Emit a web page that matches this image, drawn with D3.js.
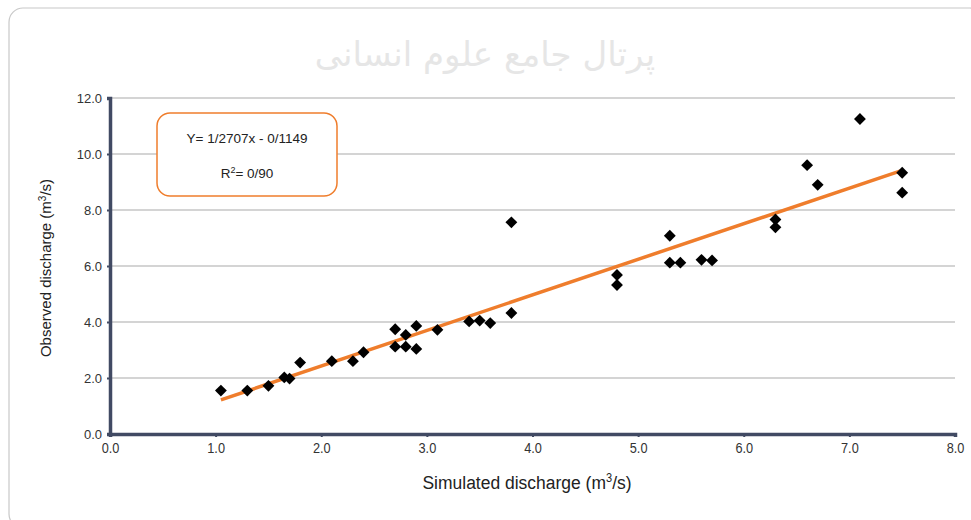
<!DOCTYPE html>
<html>
<head>
<meta charset="utf-8">
<script src="https://cdn.jsdelivr.net/npm/d3@7"></script>
<style>
  body { margin: 0; background: #fff; }
  text { font-family: "Liberation Sans", Arial, sans-serif; fill: #222; }
</style>
</head>
<body>
<div id="chart"></div>
<script>
// simulated vs observed discharge (m3/s)
var simulated = [1.05, 1.3, 1.5, 1.65, 1.7, 1.8, 2.1, 2.3, 2.4, 2.7, 2.7, 2.8, 2.8, 2.9, 2.9, 3.1,
  3.4, 3.5, 3.6, 3.8, 3.8, 4.8, 4.8, 5.3, 5.3, 5.4, 5.6, 5.7, 6.3, 6.3, 6.6, 6.7, 7.1, 7.5, 7.5];
var observed = [1.55, 1.55, 1.72, 2.02, 1.98, 2.55, 2.6, 2.6, 2.92, 3.74, 3.12, 3.54, 3.12, 3.86, 3.04, 3.72,
  4.02, 4.05, 3.96, 7.56, 4.32, 5.68, 5.32, 7.08, 6.12, 6.12, 6.22, 6.2, 7.66, 7.38, 9.6, 8.9, 11.25, 9.33, 8.62];
var xTicks = [0, 1, 2, 3, 4, 5, 6, 7, 8];
var yTicks = [0, 2, 4, 6, 8, 10, 12];
var slope = 1.2707, intercept = -0.1149;
var fitRange = [1.05, 7.5];

var svgWidth = 971;
var svgHeight = 520;
var margin = { top: 98, right: 16, bottom: 86, left: 110 };
var width = 955 - margin.left;
var height = 434 - margin.top;

var svg = d3.select("#chart")
  .append("svg")
  .attr("width", svgWidth)
  .attr("height", svgHeight);

// outer frame
svg.append("rect")
  .attr("x", 9).attr("y", 8)
  .attr("width", 975).attr("height", 520)
  .attr("rx", 14)
  .attr("fill", "none")
  .attr("stroke", "#c8c8c8")
  .attr("stroke-width", 1.2);

// watermark
svg.append("text")
  .attr("x", 485).attr("y", 66)
  .attr("text-anchor", "middle")
  .style("font-family", "DejaVu Sans, sans-serif")
  .style("font-size", "34px")
  .style("fill", "#e6e6e6")
  .text("پرتال جامع علوم انسانی");

var chartGroup = svg.append("g")
  .attr("transform", `translate(${margin.left}, ${margin.top})`);

var x = d3.scaleLinear().domain([0, 8]).range([0, width]);
var y = d3.scaleLinear().domain([0, 12]).range([height, 0]);

// gridlines
chartGroup.append("g")
  .selectAll("line")
  .data(yTicks.slice(1))
  .enter()
  .append("line")
  .attr("x1", 0).attr("x2", width)
  .attr("y1", d => y(d)).attr("y2", d => y(d))
  .attr("stroke", "#a9a9a9")
  .attr("stroke-width", 1);

// axes
var bottomAxis = d3.axisBottom(x).tickValues(xTicks).tickFormat(d3.format(".1f")).tickSize(3).tickPadding(6);
var leftAxis = d3.axisLeft(y).tickValues(yTicks).tickFormat(d3.format(".1f")).tickSize(3).tickPadding(5);

var xAxis = chartGroup.append("g")
  .attr("transform", `translate(0, ${height})`)
  .call(bottomAxis);
var yAxis = chartGroup.append("g").call(leftAxis);

[xAxis, yAxis].forEach(function(a) {
  a.select(".domain").attr("stroke", "#414a63").attr("stroke-width", 3.5);
  a.selectAll(".tick line").attr("stroke", "#414a63").attr("stroke-width", 2);
  a.selectAll(".tick text")
    .style("font-size", "13px")
    .style("fill", "#333");
});
xAxis.selectAll(".tick text").style("font-size", "14.5px").attr("transform", "scale(0.88, 1)");

// fit line
chartGroup.append("line")
  .attr("x1", x(fitRange[0])).attr("y1", y(slope * fitRange[0] + intercept))
  .attr("x2", x(fitRange[1])).attr("y2", y(slope * fitRange[1] + intercept))
  .attr("stroke", "#ef7d2c")
  .attr("stroke-width", 3.5);

// points (square diamonds)
var diamond = d3.symbol().type(d3.symbolSquare).size(70);
chartGroup.selectAll(".pt")
  .data(simulated)
  .enter()
  .append("path")
  .attr("class", "pt")
  .attr("d", diamond)
  .attr("transform", (d, i) => `translate(${x(d)}, ${y(observed[i])}) rotate(45)`)
  .attr("fill", "#000");

// equation box
svg.append("rect")
  .attr("x", 157).attr("y", 113)
  .attr("width", 180).attr("height", 83)
  .attr("rx", 13)
  .attr("fill", "#fff")
  .attr("stroke", "#ef7d2c")
  .attr("stroke-width", 1.5);

svg.append("text")
  .attr("x", 247).attr("y", 143)
  .attr("text-anchor", "middle")
  .style("font-size", "13.5px")
  .text("Y= 1/2707x - 0/1149");

var r2 = svg.append("text")
  .attr("x", 247).attr("y", 178)
  .attr("text-anchor", "middle")
  .style("font-size", "13.5px");
r2.append("tspan").text("R");
r2.append("tspan").attr("dy", -5).style("font-size", "9px").text("2");
r2.append("tspan").attr("dy", 5).text("= 0/90");

// axis titles
var xt = svg.append("text")
  .attr("transform", "translate(527, 489) scale(0.92, 1)")
  .attr("text-anchor", "middle")
  .style("font-size", "19px");
xt.append("tspan").text("Simulated discharge (m");
xt.append("tspan").attr("dy", -7).style("font-size", "12px").text("3");
xt.append("tspan").attr("dy", 7).text("/s)");

var yt = svg.append("text")
  .attr("transform", "translate(51, 268) rotate(-90)")
  .attr("text-anchor", "middle")
  .style("font-size", "15px");
yt.append("tspan").text("Observed discharge (m");
yt.append("tspan").attr("dy", -5).style("font-size", "10px").text("3");
yt.append("tspan").attr("dy", 5).text("/s)");
</script>
</body>
</html>
